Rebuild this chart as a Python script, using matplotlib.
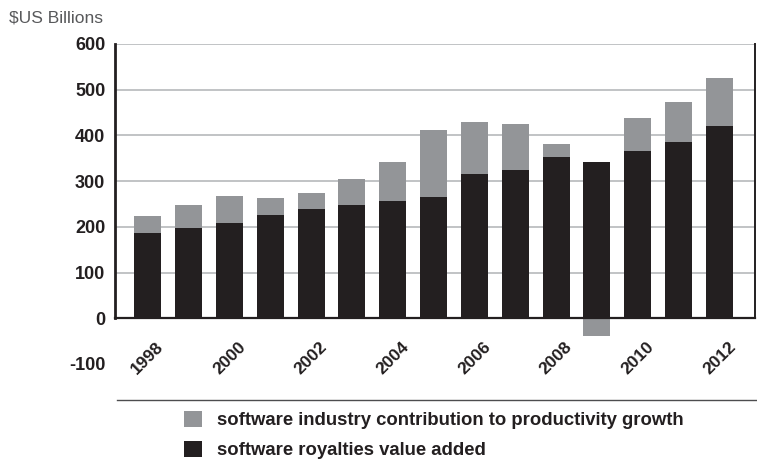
import numpy as np
import matplotlib
matplotlib.use("Agg")
import matplotlib.pyplot as plt
from matplotlib.lines import Line2D

plt.rcParams['font.family'] = ['Liberation Sans', 'DejaVu Sans']

# ----------------------------
# Data ($US billions)
# ----------------------------
years = list(range(1998, 2013))
royalties = [187, 198, 209, 227, 240, 248, 257, 266, 316, 325, 353, 342, 367, 386, 421]
productivity = [37, 50, 59, 37, 35, 56, 85, 146, 114, 101, 28, -38, 72, 88, 105]
y_ticks = [-100, 0, 100, 200, 300, 400, 500, 600]
label_years = [1998, 2000, 2002, 2004, 2006, 2008, 2010, 2012]

BLACK = "#231f20"
GRAY = "#939598"
GRID = "#bcbec0"

fig = plt.figure(figsize=(7.57, 4.62), dpi=100)
ax = fig.add_axes([115 / 757, 1 - 364 / 462, 640 / 757, 320 / 462])

x = np.arange(len(years))
roy = np.array(royalties)
prod = np.array(productivity)
# negative contribution hangs down from zero instead of stacking on top
prod_bottom = np.where(prod >= 0, roy, 0)

b_roy = ax.bar(x, roy, width=0.66, color=BLACK, zorder=2)
b_prod = ax.bar(x, prod, bottom=prod_bottom, width=0.66, color=GRAY, zorder=2)

ax.set_xlim(-0.8, len(years) - 1 + 0.87)
ax.set_ylim(-100, 600)

# axes styling
ax.spines['top'].set_visible(False)
ax.spines['bottom'].set_position(('data', 0))
ax.spines['bottom'].set_color(BLACK)
ax.spines['bottom'].set_linewidth(1.6)
ax.spines['bottom'].set_zorder(3)
ax.spines['left'].set_bounds(0, 600)
ax.spines['left'].set_color(BLACK)
ax.spines['left'].set_linewidth(2.0)
ax.spines['right'].set_bounds(0, 600)
ax.spines['right'].set_color(BLACK)
ax.spines['right'].set_linewidth(1.4)

ax.set_yticks(y_ticks)
ax.set_yticklabels([str(v) for v in y_ticks], fontsize=13, fontweight='bold', color=BLACK)
ax.tick_params(axis='y', length=0, pad=7)

ax.set_xticks([years.index(yr) for yr in label_years])
ax.set_xticklabels([str(yr) for yr in label_years], rotation=45, ha='center',
                   fontsize=12.5, fontweight='bold', color=BLACK)
ax.tick_params(axis='x', length=0, pad=15)

ax.yaxis.grid(True, color=GRID, linewidth=1.3, zorder=0)
ax.set_axisbelow(True)
for tick_val, gl in zip(y_ticks, ax.get_ygridlines()):
    if tick_val <= 0:
        gl.set_visible(False)

fig.text(9 / 757, 1 - 23 / 462, "$US Billions", fontsize=12.5, color="#58595b",
         ha='left', va='baseline')

# rule above the legend
fig.add_artist(Line2D([117 / 757, 1.0], [1 - 400 / 462] * 2, transform=fig.transFigure,
                      color="#4d4d4f", linewidth=1.0))

leg = fig.legend([b_prod, b_roy],
                 ["software industry contribution to productivity growth",
                  "software royalties value added"],
                 loc='upper left', bbox_to_anchor=(184 / 757, 1 - 411 / 462),
                 frameon=False, prop={'size': 13.3, 'weight': 'bold'},
                 handlelength=0.95, handleheight=0.95, handletextpad=0.85,
                 labelspacing=0.62, borderaxespad=0, borderpad=0)
for t in leg.get_texts():
    t.set_color(BLACK)

fig.savefig("out.png", dpi=100)
